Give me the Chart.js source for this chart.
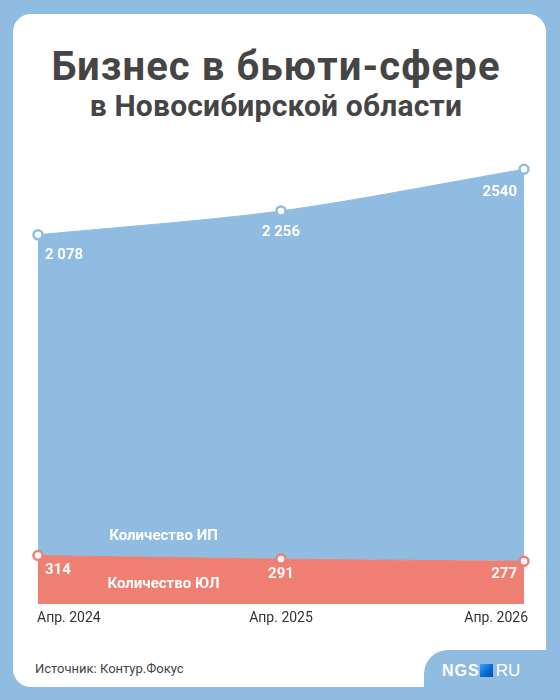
<!DOCTYPE html>
<html>
<head>
<meta charset="utf-8">
<script src="https://cdn.jsdelivr.net/npm/chart.js@4"></script>
<style>
  html, body { margin: 0; padding: 0; }
  body { width: 560px; height: 700px; background: #8fbce0; position: relative; overflow: hidden; font-family: Roboto, "Noto Sans", sans-serif; }
  .card { position: absolute; left: 13px; top: 14px; width: 533px; height: 673px; background: #fff; border-radius: 18px; }
  .notch { position: absolute; left: 424px; top: 650px; width: 200px; height: 100px; background: #8fbce0; border-top-left-radius: 24px; }
  .title { position: absolute; left: 0; width: 552px; text-align: center; color: #454545; font-weight: bold; }
  .t1 { top: 43px; font-size: 40px; letter-spacing: 1.1px; }
  .t2 { top: 88px; font-size: 30px; letter-spacing: 0.2px; }
  .source { position: absolute; left: 35px; top: 661px; font-size: 13px; color: #444; }
  .logo { position: absolute; left: 442px; top: 662px; font-size: 16px; color: #fff; font-family: Arial, "Liberation Sans", sans-serif; line-height: 18px; }
  .logo b { font-weight: 900; letter-spacing: 1px; }
  .logo i { display: inline-block; width: 13px; height: 13px; margin: 0 3px -1px 0; background: linear-gradient(135deg, #33a3ff 0%, #0b6fd6 50%, #0a4fa8 100%); }
  .logo span { font-weight: normal; font-size: 17px; }
  #chart { position: absolute; left: 0; top: 0; }
</style>
</head>
<body>
<div class="card"></div>
<div class="notch"></div>
<div class="title t1">Бизнес в бьюти-сфере</div>
<div class="title t2">в Новосибирской области</div>
<div class="source">Источник: Контур.Фокус</div>
<div class="logo"><b>NGS</b><i></i><span>RU</span></div>
<canvas id="chart" width="560" height="700"></canvas>
<script>
const periods = ["Апр. 2024", "Апр. 2025", "Апр. 2026"];
const ipCounts = [2078, 2256, 2540];
const ulCounts = [314, 291, 277];
const ipLabels = ["2 078", "2 256", "2540"];
const ulLabels = ["314", "291", "277"];
const seriesNames = ["Количество ИП", "Количество ЮЛ"];

const BLUE = "#8fbce0";
const RED = "#ef7f72";

const labelsPlugin = {
  id: "labels",
  afterDatasetsDraw(chart) {
    const ctx = chart.ctx;
    const red = chart.getDatasetMeta(0).data;
    const blue = chart.getDatasetMeta(1).data;
    const x = chart.scales.x;
    ctx.save();
    ctx.textBaseline = "middle";
    ctx.fillStyle = "#fff";
    ctx.font = "bold 15px Roboto";
    const aligns = ["left", "center", "right"];
    const dx = [7, 0, -7];
    const blueDy = [20, 21, 23];
    const redDy = [15, 15, 13];
    for (let i = 0; i < 3; i++) {
      ctx.textAlign = aligns[i];
      ctx.fillText(ipLabels[i], blue[i].x + dx[i], blue[i].y + blueDy[i]);
      ctx.fillText(ulLabels[i], red[i].x + dx[i], red[i].y + redDy[i]);
    }
    // series names
    ctx.font = "bold 15px Roboto";
    ctx.textAlign = "center";
    const mx = x.getPixelForValue(0.5) + 4;
    const midRed = (red[0].y + red[1].y) / 2;
    ctx.fillText(seriesNames[0], mx, midRed - 21);
    ctx.fillText(seriesNames[1], mx, (midRed + chart.chartArea.bottom) / 2 + 4);
    // x labels
    ctx.fillStyle = "#333";
    ctx.font = "14px Roboto";
    const xdx = [-1, 0, 4];
    for (let i = 0; i < periods.length; i++) {
      ctx.textAlign = aligns[i];
      ctx.fillText(periods[i], x.getPixelForValue(i) + xdx[i], chart.chartArea.bottom + 14);
    }
    ctx.restore();
  }
};

new Chart(document.getElementById("chart"), {
  type: "line",
  data: {
    labels: periods,
    datasets: [
      {
        label: seriesNames[1],
        data: ulCounts,
        fill: "origin",
        backgroundColor: RED,
        borderColor: RED,
        borderWidth: 1,
        tension: 0.3,
        pointRadius: 4.5,
        pointBorderWidth: 2.5,
        pointBackgroundColor: "#fff",
        pointBorderColor: RED,
        clip: false
      },
      {
        label: seriesNames[0],
        data: ipCounts,
        fill: "-1",
        backgroundColor: BLUE,
        borderColor: BLUE,
        borderWidth: 1,
        tension: 0.3,
        pointRadius: 4.5,
        pointBorderWidth: 2.5,
        pointBackgroundColor: "#fff",
        pointBorderColor: BLUE,
        clip: false
      }
    ]
  },
  options: {
    responsive: false,
    devicePixelRatio: 1,
    animation: false,
    layout: { padding: { left: 38, right: 36, top: 141, bottom: 96 } },
    plugins: { legend: { display: false }, tooltip: { enabled: false } },
    scales: {
      x: { display: false, offset: false },
      y: { display: false, stacked: true, min: 0, max: 3000 }
    }
  },
  plugins: [labelsPlugin]
});
</script>
</body>
</html>
